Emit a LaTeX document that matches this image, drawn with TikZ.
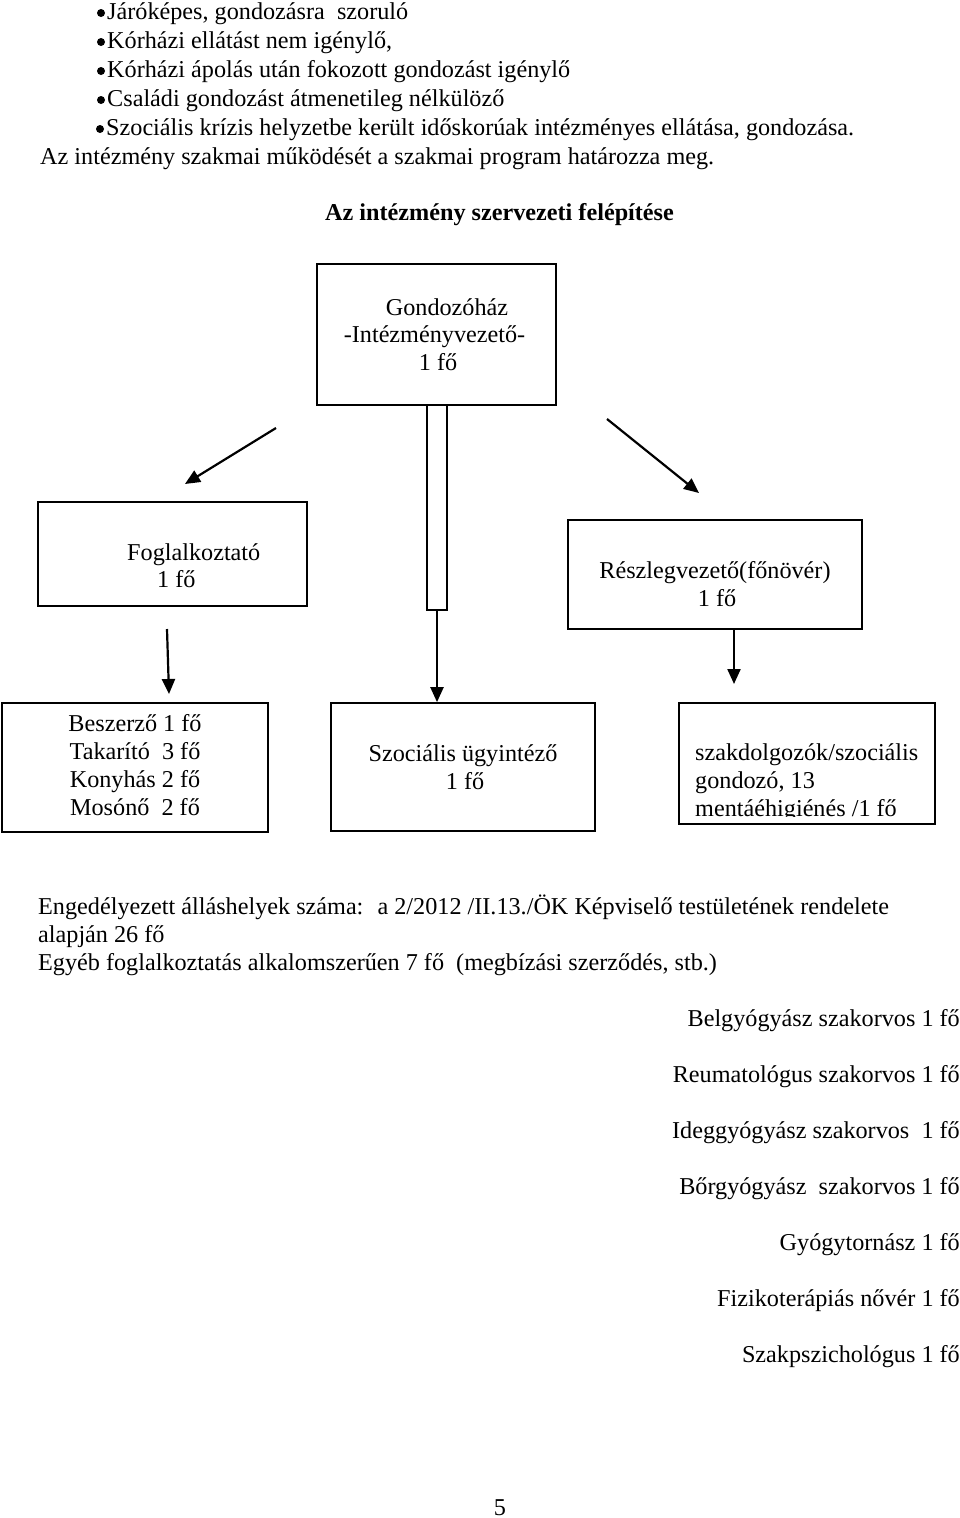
\documentclass[tikz,border=0pt]{standalone}
\usepackage{fontspec}
\setmainfont{Liberation Serif}
\usetikzlibrary{arrows.meta}
\begin{document}
\begin{tikzpicture}[x=1pt,y=-1pt,
  every node/.style={inner sep=0pt, font=\fontsize{24.2}{27.8}\selectfont},
  box/.style={draw, line width=1.7pt, rectangle},
  arr/.style={line width=2.2pt, -{Triangle[length=15pt,width=13pt]}},
  tl/.style={anchor=base west},
  tc/.style={anchor=base},
  tr/.style={anchor=base east},
  dot/.style={circle, fill=black, minimum size=8pt, inner sep=0pt},
]
\fill[white] (0,0) rectangle (960,1518);
\useasboundingbox (0,0) rectangle (960,1518);

% top text
\node[tl] (b1) at (107,19) {Járóképes, gondozásra~ szoruló};
\node[tl] (b2) at (107,48) {Kórházi ellátást nem igénylő,};
\node[tl] (b3) at (107,77) {Kórházi ápolás után fokozott gondozást igénylő};
\node[tl] (b4) at (107,106) {Családi gondozást átmenetileg nélkülöző};
\node[tl] (b5) at (106,135) {Szociális krízis helyzetbe került időskorúak intézményes ellátása, gondozása.};
\node[dot] (d1) at (101,13) {};
\node[dot] (d2) at (101,42) {};
\node[dot] (d3) at (101,71) {};
\node[dot] (d4) at (101,100) {};
\node[dot] (d5) at (100,129) {};
\node[tl] (b6) at (40,164) {Az intézmény szakmai működését a szakmai program határozza meg.};
\node[tc, font=\fontsize{24.2}{27.8}\selectfont\bfseries] (title) at (499.5,220) {Az intézmény szervezeti felépítése};

% boxes
\node[box, minimum width=239pt, minimum height=141pt] (gh) at (436.5,334.5) {};
\node[box, minimum width=20pt, minimum height=205pt] (stem) at (437,507.5) {};
\node[box, minimum width=269pt, minimum height=104pt] (fog) at (172.5,554) {};
\node[box, minimum width=294pt, minimum height=109pt] (resz) at (715,574.5) {};
\node[box, minimum width=266pt, minimum height=129pt] (besz) at (135,767.5) {};
\node[box, minimum width=264pt, minimum height=128pt] (soc) at (463,767) {};
\node[box, minimum width=256pt, minimum height=121pt] (szak) at (807,763.5) {};

% box texts
\node[tc] (gh1) at (447,315) {Gondozóház};
\node[tc] (gh2) at (434.5,342.5) {-Intézményvezető-};
\node[tc] (gh3) at (438,370) {1 fő};

\node[tl] (fog1) at (127,560) {Foglalkoztató};
\node[tl] (fog2) at (157,587) {1 fő};

\node[tc] (resz1) at (715,578) {Részlegvezető(főnövér)};
\node[tc] (resz2) at (717,606) {1 fő};

\node[tc] (besz1) at (135,731) {Beszerző 1 fő};
\node[tc] (besz2) at (135,759) {Takarító~ 3 fő};
\node[tc] (besz3) at (135,787) {Konyhás 2 fő};
\node[tc] (besz4) at (135,815) {Mosónő~ 2 fő};

\node[tc] (soc1) at (463,761) {Szociális ügyintéző};
\node[tc] (soc2) at (465,789) {1 fő};

\node[tl] (szak1) at (695,760) {szakdolgozók/szociális};
\node[tl] (szak2) at (695,788) {gondozó, 13};
\begin{scope}
\clip (680,790) rectangle (934,816);
\node[tl] (szak3) at (695,816) {mentáéhigiénés /1 fő};
\end{scope}

% arrows
\coordinate (la1) at (276,428);
\coordinate (la2) at (185,484);
\coordinate (ra1) at (607,419);
\coordinate (ra2) at (699,493);
\coordinate (fa1) at (167,629);
\coordinate (fa2) at (169,694);
\coordinate (rb1) at (734,629);
\coordinate (rb2) at (734,684);
\draw[arr] (la1) -- (la2);
\draw[arr] (ra1) -- (ra2);
\draw[arr] (fa1) -- (fa2);
\draw[arr] (rb1) -- (rb2);
\draw[arr] (stem.south) -- (stem.south |- soc.north);

% bottom text
\node[tl] (e1) at (38,914) {Engedélyezett álláshelyek száma:~ a 2/2012 /II.13./ÖK Képviselő testületének rendelete};
\node[tl] (e2) at (38,942) {alapján 26 fő};
\node[tl] (e3) at (38,970) {Egyéb foglalkoztatás alkalomszerűen 7 fő~ (megbízási szerződés, stb.)};

\node[tr] (r1) at (960,1026) {Belgyógyász szakorvos 1 fő};
\node[tr] (r2) at (960,1082) {Reumatológus szakorvos 1 fő};
\node[tr] (r3) at (960,1138) {Ideggyógyász szakorvos~ 1 fő};
\node[tr] (r4) at (960,1194) {Bőrgyógyász~ szakorvos 1 fő};
\node[tr] (r5) at (960,1250) {Gyógytornász 1 fő};
\node[tr] (r6) at (960,1306) {Fizikoterápiás nővér 1 fő};
\node[tr] (r7) at (960,1362) {Szakpszichológus 1 fő};

\node[tc] (page) at (500,1515) {5};
\end{tikzpicture}
\end{document}
